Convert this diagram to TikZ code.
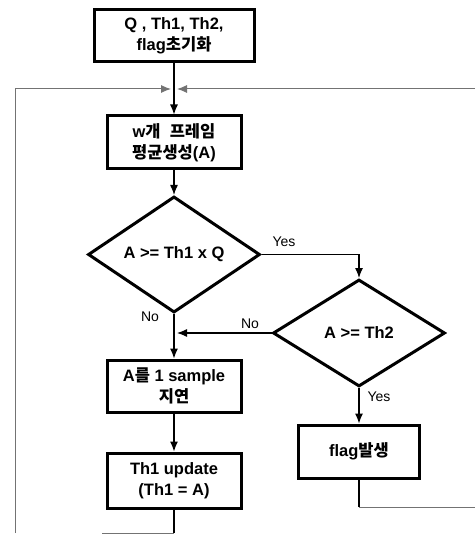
\documentclass[tikz,border=0pt]{standalone}
\usepackage{fontspec}
\setmainfont{Liberation Sans}
\newfontfamily\kr{Noto Sans CJK KR}
\usetikzlibrary{shapes.geometric,arrows.meta}
\begin{document}
\begin{tikzpicture}[x=1pt,y=-1pt,
  procbox/.style={draw,line width=3pt,minimum width=#1,inner sep=0pt,align=center,font=\bfseries\fontsize{16.5}{21}\selectfont},
  procbox/.default=134,
  decbox/.style={draw,diamond,line width=3pt,inner sep=0pt,minimum width=172,minimum height=107,font=\bfseries\fontsize{16.5}{20}\selectfont},
  tip/.style={-{Latex[length=10pt,width=8pt]}},
  flow/.style={line width=1.2pt,tip},
  plain/.style={line width=1.2pt},
  loopline/.style={line width=1pt,black!55},
  lbl/.style={font=\fontsize{14}{16}\selectfont,inner sep=0pt}]
\useasboundingbox (0,0) rectangle (475,534);
\node[procbox=160,minimum height=52] (init) at (174,36) {Q , Th1, Th2,\\flag{\kr 초기화}};
\node[procbox,minimum height=53] (avg) at (174,142.5) {w{\kr 개} \ {\kr 프레임}\\{\kr 평균생성}(A)};
\node[decbox] (d1) at (174,254.5) {A >= Th1 x Q};
\node[decbox] (d2) at (359,333) {A >= Th2};
\node[procbox,minimum height=52] (delay) at (174,386) {A{\kr 를} 1 sample\\{\kr 지연}};
\node[procbox,minimum height=55] (upd) at (174,480.5) {Th1 update\\(Th1 = A)};
\node[procbox=121,minimum height=53] (flag) at (359,451.5) {flag{\kr 발생}};
\coordinate (j) at (174,89);
\coordinate (jl) at (171,89);
\coordinate (jr) at (177,89);
\coordinate (tr) at (475,89);
\coordinate (tl) at (15,89);
\coordinate (bl) at (15,533);
\coordinate (bm) at (174,533);
\coordinate (bx) at (102,533);
\coordinate (yr) at (359,254.5);
\coordinate (nj) at (174,333);
\coordinate (fr) at (359,507);
\coordinate (fe) at (475,507);
% main flow
\draw[flow] (init.south) -- (avg.north);
\draw[flow] (avg.south) -- (d1.north);
\draw[flow] (d1.south) -- (delay.north);
\draw[flow] (delay.south) -- (upd.north);
\draw[flow] (d1.east) -- (yr) -- (d2.north);
\draw[flow] (d2.west) -- ([xshift=3]nj);
\draw[flow] (d2.south) -- (flag.north);
% loop lines
\draw[loopline,tip] (bl) -- (tl) -- (jl);
\draw[loopline,tip] (tr) -- (jr);
\draw[plain] (upd.south) -- (bm);
\draw[loopline] (bm) -- (bx);
\draw[plain] (flag.south) -- (fr);
\draw[loopline] (fr) -- (fe);
% labels
\node[lbl] (ly1) at (284,242) {Yes};
\node[lbl] (ln1) at (150,317) {No};
\node[lbl] (ln2) at (250,324) {No};
\node[lbl] (ly2) at (379,397) {Yes};
\end{tikzpicture}
\end{document}
